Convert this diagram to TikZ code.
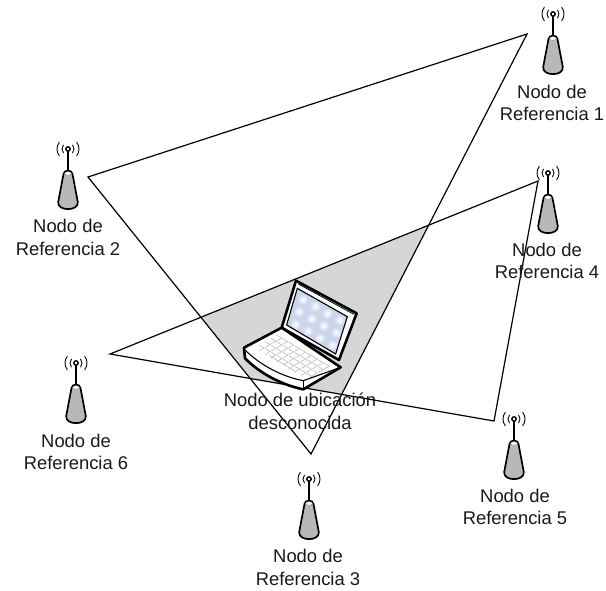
\documentclass[tikz,border=0pt]{standalone}
\usepackage{fontspec}
\setmainfont{Liberation Sans}
\definecolor{screenblue}{RGB}{203,214,236}
\tikzset{
  lbl/.style={align=center,font=\fontsize{18.4}{22.5}\selectfont,text=black!90,inner sep=0pt},
  tri/.style={draw=black,line width=1.2pt,line join=miter},
  keyb/.style={draw=black!30,line width=0.5pt},
  wave/.style={black,line width=0.9pt,line cap=round},
  pics/tower/.style={code={
    \draw[wave] (-8.67,6.77) arc[start angle=142,end angle=218,radius=11];
    \draw[wave] (8.67,6.77) arc[start angle=38,end angle=-38,radius=11];
    \draw[wave] (-4.6,3.86) arc[start angle=140,end angle=220,radius=6];
    \draw[wave] (4.6,3.86) arc[start angle=40,end angle=-40,radius=6];
    \draw[black,line width=1.7pt] (0,0) -- (0,23);
    \draw[black,fill=white,line width=1.4pt] (0,0) circle (2.2);
    \draw[black,fill=black!28,line width=1.7pt,line join=round]
      (-4.5,25) .. controls (-4,20.5) and (4,20.5) .. (4.5,25)
      -- (9.8,53) .. controls (11,62.5) and (-11,62.5) .. (-9.8,53) -- cycle;
    \draw[black!50,fill=white,line width=0.4pt] (0,24.5) ellipse (3.4 and 1.8);
  }}
}
\begin{document}
\begin{tikzpicture}[x=1pt,y=-1pt]
\useasboundingbox (0,0) rectangle (606,590);
% triangle corners
\coordinate (a1) at (527,34);
\coordinate (a2) at (88,177);
\coordinate (a3) at (311,454);
\coordinate (b1) at (538,181);
\coordinate (b2) at (110,354);
\coordinate (b3) at (494,421);
% shaded overlap
\begin{scope}
  \clip (a1) -- (a2) -- (a3) -- cycle;
  \fill[black!16] (b1) -- (b2) -- (b3) -- cycle;
\end{scope}
\draw[tri] (a1) -- (a2) -- (a3) -- cycle;
\draw[tri] (b1) -- (b2) -- (b3) -- cycle;
% laptop
\begin{scope}[shift={(190,260)},scale=0.3333]
  \draw[fill=white,line width=2.6pt,line join=round]
    (318,62) -- (500,160) -- (447,300) -- (275,203) -- cycle;
  \draw[line width=0.8pt] (325,72) -- (492,163);
  \begin{scope}
    \clip (322,85) -- (472,170) -- (437,282) -- (290,195) -- cycle;
    \fill[screenblue] (280,60) rectangle (490,300);
    \foreach \i in {0,1,2,3} \foreach \j in {0,1,2} {
      \shade[inner color=white,outer color=screenblue]
        ({338+\i*37-\j*11},{118+\i*21+\j*37})
        circle (17);
    }
  \end{scope}
  \draw[line width=1.1pt] (322,85) -- (472,170) -- (437,282) -- (290,195) -- cycle;
  \draw[fill=white,line width=2.6pt,line join=round]
    (162,263) -- (275,203) -- (452,322) -- (340,388)
    .. controls (275,375) and (210,340) .. (165,295) -- cycle;
  \draw[line width=1.1pt] (163,268) .. controls (210,315) and (275,350) .. (340,362) -- (452,322);
  \draw[line width=1.1pt] (340,362) -- (340,388);
  \foreach \i in {0,...,8} \foreach \j in {0,...,3} {
    \draw[keyb] ({260+\i*17.8-\j*17.5},{225+\i*10.6+\j*10})
      -- ++(15,9) -- ++(-15,8.5);
  }
  \draw[keyb] (238,287) -- (318,335);
\end{scope}
% towers
\pic at (553,14) {tower};
\pic at (68,149) {tower};
\pic at (309,479) {tower};
\pic at (548,173) {tower};
\pic at (514,419) {tower};
\pic at (76,363) {tower};
% labels
\node[lbl] (r1) at (552,103) {Nodo de\\Referencia 1};
\node[lbl] (r2) at (68,237.5) {Nodo de\\Referencia 2};
\node[lbl] (r3) at (308,567.5) {Nodo de\\Referencia 3};
\node[lbl] (r4) at (547,261) {Nodo de\\Referencia 4};
\node[lbl] (r5) at (515,507) {Nodo de\\Referencia 5};
\node[lbl] (r6) at (76,452) {Nodo de\\Referencia 6};
\node[lbl] (u) at (300,411.5) {Nodo de ubicación\\desconocida};
\end{tikzpicture}
\end{document}
